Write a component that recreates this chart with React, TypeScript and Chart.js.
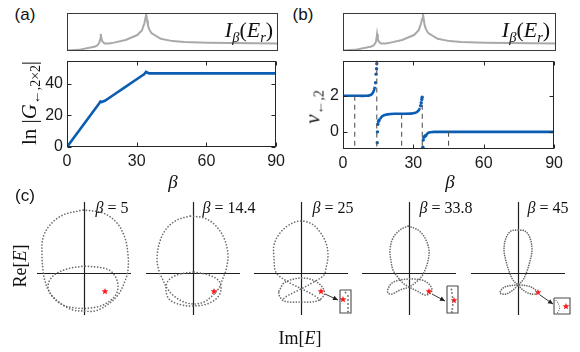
import React, { useEffect, useRef } from "react";
import { Chart, registerables } from "chart.js";
Chart.register(...registerables);

// ---------------- data ----------------
const xTicks = [0, 30, 60, 90];
const aYTicks = [0, 20, 40];
const bYTicks = [0, 2];

// inset intensity I_beta(E_r)
const betaIntensity = [0, 5, 10, 12, 13, 13.8, 14.1, 14.4, 14.7, 15, 16, 18, 20, 25, 30, 32, 33, 33.4, 33.8, 34.2, 34.5, 35, 36, 40, 45, 50, 60, 70, 80, 90];
const intensity = [0.01, 0.03, 0.09, 0.12, 0.15, 0.22, 0.3, 0.45, 0.32, 0.26, 0.2, 0.2, 0.22, 0.29, 0.42, 0.55, 0.73, 0.84, 0.97, 0.8, 0.68, 0.58, 0.47, 0.32, 0.26, 0.24, 0.22, 0.21, 0.205, 0.2];

// panel (a): ln|G|
const betaG = [0, 5, 10, 13.9, 14.4, 14.9, 16.3, 20, 25, 30, 33.3, 34.0, 35.4, 40, 50, 60, 70, 80, 90];
const lnG = [0, 10, 20, 27.8, 28.9, 28.5, 29.3, 33.0, 38.0, 43.0, 46.3, 47.6, 46.7, 46.7, 46.7, 46.7, 46.7, 46.7, 46.7];

// panel (b): winding number branches
const nuBranch1Beta = [0, 5, 10, 11.5, 12.5, 13.2, 13.6];
const nuBranch1 = [2, 2, 2, 2.03, 2.12, 2.3, 2.5];
const nuBranch2Beta = [15.8, 16.5, 17.5, 19, 22, 26, 29, 30.5, 31.5, 32.3, 32.8];
const nuBranch2 = [0.72, 0.84, 0.92, 0.97, 1, 1, 1.01, 1.04, 1.1, 1.2, 1.32];
const nuBranch3Beta = [35.6, 36.3, 37.2, 39, 45, 60, 75, 90];
const nuBranch3 = [-0.15, -0.06, -0.02, 0, 0, 0, 0, 0];
const nuDotsBeta = [13.9, 14.1, 14.3, 14.4, 14.6, 14.7, 14.85, 15.1, 15.45, 33.1, 33.35, 33.6, 33.75, 34.05, 34.2, 34.45, 34.9, 35.3];
const nuDots = [2.72, 3.2, 3.5, 3.78, -0.6, 0.0, 0.42, 0.58, 0.66, 1.45, 1.62, 1.8, 1.92, -0.85, -0.45, -0.3, -0.24, -0.2];
const dashBeta = [5, 14.4, 25, 33.8, 45];
const dashTop = [2, 3.95, 1, 1.5, 0];

// panel (c): spectra in complex plane
type Pt = [number, number];
const cLabels = ["5", "14.4", "25", "33.8", "45"];
const c1Outer: Pt[] = [[-1, 63], [-21, 58], [-34, 48], [-41, 35], [-42, 18], [-41, 3], [-39, -8], [-34, -20], [-24, -30], [-11, -37], [1, -38], [11, -38], [23, -32], [34, -22], [41, -8], [44, 3], [44, 18], [41, 35], [33, 50], [19, 60], [-1, 63]];
const c1Inner: Pt[] = [[1, 7], [-17, 4], [-31, -3], [-36, -13], [-32, -23], [-21, -32], [-8, -35], [6, -35], [19, -32], [31, -23], [34, -13], [31, -3], [23, 4], [1, 7]];
const c2Outer: Pt[] = [[-3, 57], [-16, 53], [-26, 45], [-33, 32], [-36, 15], [-34, 2], [-31, -5], [-26, -15], [-19, -23], [-9, -29], [1, -31], [11, -29], [19, -23], [26, -15], [30, -5], [33, 3], [35, 18], [31, 35], [22, 48], [11, 55], [-3, 57]];
const c2Inner: Pt[] = [[0, 1], [-16, -2], [-25, -8], [-27, -18], [-23, -27], [-11, -32], [1, -33], [14, -31], [24, -25], [28, -17], [26, -8], [16, -2], [0, 1]];
const c3Top: Pt[] = [[19, -27], [14, -23], [3, -17], [-11, -10], [-23, -2], [-26, 3], [-27, 15], [-27, 28], [-21, 40], [-12, 48], [-1, 52], [11, 49], [19, 41], [25, 30], [27, 17], [25, 5], [23, -2], [11, -10], [-2, -17], [-14, -23], [-19, -27]];
const c3Low: Pt[] = [[-22, -18], [-17, -10], [-7, -6], [3, -5], [14, -8], [22, -15], [23, -22], [16, -28], [-1, -29], [-17, -28], [-22, -22], [-22, -18]];
const c4Curve: Pt[] = [[-1, 47], [-9, 43], [-16, 35], [-19, 23], [-18, 12], [-16, 3], [-12, -3], [-6, -10], [0, -14], [8, -18], [16, -22], [20, -21], [23, -17], [20, -11], [13, -7], [4, -6], [-1, -6], [-9, -7], [-17, -10], [-21, -16], [-21, -20], [-17, -21], [-9, -17], [0, -14], [6, -10], [13, -3], [16, 3], [19, 12], [20, 23], [16, 35], [9, 43], [-1, 47]];
const c5Curve: Pt[] = [[0, 43], [-7, 42], [-12, 35], [-14, 23], [-12, 12], [-9, 2], [-5, -7], [0, -12], [5, -17], [13, -21], [20, -20], [15, -15], [10, -13], [0, -12], [-10, -13], [-15, -15], [-18, -20], [-12, -21], [-5, -17], [0, -12], [5, -7], [9, 2], [12, 12], [14, 23], [12, 35], [7, 42], [0, 43]];
const cStars: Pt[] = [[21, -18], [21, -18], [20, -18], [20, -18], [20, -19]];
const arrowFrom: Pt[] = [[24, -21], [23, -21], [22, -22]];
const arrowTo: Pt[] = [[37, -27], [36, -28], [35, -31]];
const boxX0 = [39, 38, 36];
const boxX1 = [50, 49, 52];
const boxY0 = [-17, -13, -25];
const boxY1 = [-40, -40, -41];
const boxStars: Pt[] = [[42, -26], [45, -27], [48, -33]];
const box3Dots: Pt[] = [[44.5, -19.5], [47, -23], [47, -27], [47, -31], [47, -35], [47, -38.5]];
const box4Dots: Pt[] = [[42.5, -16.5], [43, -20], [43.5, -24], [44, -28], [43.8, -32], [43.2, -36], [42.8, -39]];
const box5Curve: Pt[] = [[38, -27.5], [40.5, -31], [41.5, -35], [40.3, -38.5], [38.5, -40.5]];

// ---------------- styles ----------------
const AXIS = "#262626";
const BLUE = "#0b5cb3";
const GRAY_I = "#a9a9a9";
const DOT_GRAY = "#6c6c6c";
const cCenters = [84, 193, 301, 409, 518];
const crossY = 273;

const toXY = (xs: number[], ys: number[]) => xs.map((x, i) => ({ x, y: ys[i] }));
const fromPairs = (p: Pt[]) => p.map(([x, y]) => ({ x, y }));

const framePlugin = {
  id: "frame",
  afterDraw(chart: any, _a: any, opts: any) {
    if (!opts || !opts.enabled) return;
    const { ctx, chartArea: a, scales } = chart;
    const l = Math.round(a.left) + 0.5, t = Math.round(a.top) + 0.5;
    const r = Math.round(a.right) - 0.5, b = Math.round(a.bottom) - 0.5;
    ctx.save();
    ctx.strokeStyle = opts.color || AXIS;
    ctx.lineWidth = 1;
    ctx.strokeRect(l, t, r - l, b - t);
    if (opts.ticks) {
      const L = 4;
      ctx.beginPath();
      for (const tk of scales.x.ticks) {
        const px = Math.round(scales.x.getPixelForValue(tk.value)) + 0.5;
        ctx.moveTo(px, b); ctx.lineTo(px, b - L);
        ctx.moveTo(px, t); ctx.lineTo(px, t + L);
      }
      for (const tk of scales.y.ticks) {
        const py = Math.round(scales.y.getPixelForValue(tk.value)) + 0.5;
        ctx.moveTo(l, py); ctx.lineTo(l + L, py);
        ctx.moveTo(r, py); ctx.lineTo(r - L, py);
      }
      ctx.stroke();
    }
    ctx.restore();
  },
};

const crossPlugin = {
  id: "cross",
  beforeDatasetsDraw(chart: any, _a: any, opts: any) {
    if (!opts || !opts.enabled) return;
    const { ctx, scales } = chart;
    const x0 = Math.round(scales.x.getPixelForValue(0)) + 0.5;
    const y0 = Math.round(scales.y.getPixelForValue(0)) + 0.5;
    ctx.save();
    ctx.strokeStyle = "#1e1e1e";
    ctx.lineWidth = 1.2;
    ctx.beginPath();
    ctx.moveTo(scales.x.getPixelForValue(opts.xMin), y0);
    ctx.lineTo(scales.x.getPixelForValue(opts.xMax), y0);
    ctx.moveTo(x0, scales.y.getPixelForValue(opts.yMin));
    ctx.lineTo(x0, scales.y.getPixelForValue(opts.yMax));
    ctx.stroke();
    ctx.restore();
  },
};

const arrowPlugin = {
  id: "arrowHead",
  afterDatasetsDraw(chart: any) {
    const { ctx } = chart;
    chart.data.datasets.forEach((ds: any, i: number) => {
      if (!ds.arrowHead) return;
      const pts = chart.getDatasetMeta(i).data;
      if (pts.length < 2) return;
      const p1 = pts[pts.length - 2], p2 = pts[pts.length - 1];
      const ang = Math.atan2(p2.y - p1.y, p2.x - p1.x);
      const len = 5, w = 2.4;
      ctx.save();
      ctx.fillStyle = ds.borderColor;
      ctx.beginPath();
      ctx.moveTo(p2.x, p2.y);
      ctx.lineTo(p2.x - len * Math.cos(ang) + w * Math.sin(ang), p2.y - len * Math.sin(ang) - w * Math.cos(ang));
      ctx.lineTo(p2.x - len * Math.cos(ang) - w * Math.sin(ang), p2.y - len * Math.sin(ang) + w * Math.cos(ang));
      ctx.closePath();
      ctx.fill();
      ctx.restore();
    });
  },
};

function makeStar(size: number, color: string) {
  const c = document.createElement("canvas");
  c.width = size; c.height = size;
  const g = c.getContext("2d")!;
  const cx = size / 2, cy = size / 2 + 0.4, R = size / 2 - 0.5, r = R * 0.45;
  g.beginPath();
  for (let i = 0; i < 10; i++) {
    const ang = -Math.PI / 2 + (i * Math.PI) / 5;
    const rad = i % 2 === 0 ? R : r;
    g.lineTo(cx + rad * Math.cos(ang), cy + rad * Math.sin(ang));
  }
  g.closePath();
  g.fillStyle = color;
  g.fill();
  return c;
}

const tickFont = { family: '"Liberation Sans", Arial, Helvetica, sans-serif', size: 16 };
const baseOpts = (extra: any) => ({
  responsive: false,
  animation: false,
  events: [],
  ...extra,
});

function insetConfig() {
  return {
    type: "scatter",
    data: {
      datasets: [{ data: toXY(betaIntensity, intensity), showLine: true, borderColor: GRAY_I, borderWidth: 2, pointRadius: 0, tension: 0 }],
    },
    options: baseOpts({
      layout: { padding: 2, autoPadding: false },
      scales: { x: { type: "linear", min: 0, max: 90, display: false }, y: { min: 0, max: 1, display: false } },
      plugins: { legend: { display: false }, tooltip: { enabled: false }, frame: { enabled: true, color: "#3a3a3a" } },
    }),
    plugins: [framePlugin],
  };
}

function mainScales(yMin: number, yMax: number, yTicks: number[], yWidth: number, xHeight: number) {
  return {
    x: {
      type: "linear", min: 0, max: 90,
      afterBuildTicks: (s: any) => { s.ticks = xTicks.map((v) => ({ value: v })); },
      afterFit: (s: any) => { s.height = xHeight; },
      grid: { display: false, drawTicks: false },
      border: { display: false },
      ticks: { font: tickFont, color: "#1a1a1a", padding: 5, maxRotation: 0, autoSkip: false },
    },
    y: {
      type: "linear", min: yMin, max: yMax,
      afterBuildTicks: (s: any) => { s.ticks = yTicks.map((v) => ({ value: v })); },
      afterFit: (s: any) => { s.width = yWidth; },
      grid: { display: false, drawTicks: false },
      border: { display: false },
      ticks: { font: tickFont, color: "#1a1a1a", padding: 4, autoSkip: false },
    },
  };
}

function aConfig() {
  return {
    type: "scatter",
    data: {
      datasets: [{ data: toXY(betaG, lnG), showLine: true, borderColor: BLUE, borderWidth: 2.6, pointRadius: 0, tension: 0 }],
    },
    options: baseOpts({
      layout: { padding: { top: 4, right: 12, left: 0, bottom: 0 }, autoPadding: false },
      scales: mainScales(0, 54.8, aYTicks, 47, 27),
      plugins: { legend: { display: false }, tooltip: { enabled: false }, frame: { enabled: true, ticks: true } },
    }),
    plugins: [framePlugin],
  };
}

const B_YMIN = -0.95;
const B_YMAX = 3.95;

function bConfig() {
  const dashed = dashBeta.map((b, i) => ({
    data: [{ x: b, y: dashTop[i] }, { x: b, y: B_YMIN }],
    showLine: true, borderColor: "#555", borderWidth: 1.1, borderDash: [5, 4], pointRadius: 0,
  }));
  const line = (xs: number[], ys: number[]) => ({
    data: toXY(xs, ys), showLine: true, borderColor: BLUE, borderWidth: 2.6, pointRadius: 0, tension: 0.3,
  });
  return {
    type: "scatter",
    data: {
      datasets: [
        ...dashed,
        line(nuBranch1Beta, nuBranch1),
        line(nuBranch2Beta, nuBranch2),
        line(nuBranch3Beta, nuBranch3),
        { data: toXY(nuDotsBeta, nuDots), showLine: false, pointRadius: 1.7, backgroundColor: BLUE, borderWidth: 0 },
      ],
    },
    options: baseOpts({
      layout: { padding: { top: 4, right: 12, left: 0, bottom: 0 }, autoPadding: false },
      scales: mainScales(B_YMIN, B_YMAX, bYTicks, 48, 27),
      plugins: { legend: { display: false }, tooltip: { enabled: false }, frame: { enabled: true, ticks: true } },
    }),
    plugins: [framePlugin],
  };
}

function dotted(p: Pt[], gap = 3.1) {
  return {
    data: fromPairs(p), showLine: true, borderColor: DOT_GRAY, borderWidth: 1.7,
    borderDash: [0.01, gap], borderCapStyle: "round", pointRadius: 0, tension: 0.35,
  };
}

function cConfig(idx: number) {
  const star = makeStar(8, "#ff1a1a");
  const sets: any[] = [];
  if (idx === 0) sets.push(dotted(c1Outer), dotted(c1Inner));
  if (idx === 1) sets.push(dotted(c2Outer), dotted(c2Inner));
  if (idx === 2) sets.push(dotted(c3Top), dotted(c3Low, 2.8));
  if (idx === 3) sets.push(dotted(c4Curve, 2.6));
  if (idx === 4) sets.push(dotted(c5Curve, 2.4));
  if (idx >= 2) {
    const k = idx - 2;
    sets.push({
      data: fromPairs([arrowFrom[k], arrowTo[k]]), showLine: true, borderColor: "#222",
      borderWidth: 0.9, pointRadius: 0, arrowHead: true,
    });
    sets.push({
      data: fromPairs([[boxX0[k], boxY0[k]], [boxX1[k], boxY0[k]], [boxX1[k], boxY1[k]], [boxX0[k], boxY1[k]], [boxX0[k], boxY0[k]]]),
      showLine: true, borderColor: "#4a4a4a", borderWidth: 1.1, pointRadius: 0, tension: 0,
    });
    if (k === 0) sets.push({ data: fromPairs(box3Dots), showLine: false, pointRadius: 0.9, backgroundColor: DOT_GRAY, borderWidth: 0 });
    if (k === 1) sets.push({ data: fromPairs(box4Dots), showLine: false, pointRadius: 0.9, backgroundColor: DOT_GRAY, borderWidth: 0 });
    if (k === 2) sets.push({ ...dotted(box5Curve, 2.2), borderWidth: 1.2 });
    sets.push({ data: fromPairs([boxStars[k]]), showLine: false, pointStyle: star, pointRadius: 4 });
  }
  sets.push({ data: fromPairs([cStars[idx]]), showLine: false, pointStyle: star, pointRadius: 4 });
  return {
    type: "scatter",
    data: { datasets: sets },
    options: baseOpts({
      layout: { padding: 0, autoPadding: false },
      scales: { x: { type: "linear", min: -50, max: 60, display: false }, y: { min: -45, max: 75, display: false } },
      plugins: {
        legend: { display: false }, tooltip: { enabled: false },
        cross: { enabled: true, xMin: -47, xMax: 47, yMin: -42, yMax: 71 },
      },
    }),
    plugins: [crossPlugin, arrowPlugin],
  };
}

function ChartCanvas({ left, top, width, height, make }: any) {
  const ref = useRef<HTMLCanvasElement>(null);
  useEffect(() => {
    const chart = new Chart(ref.current as HTMLCanvasElement, make());
    return () => chart.destroy();
  }, []);
  return <canvas ref={ref} width={width} height={height} style={{ position: "absolute", left, top, width, height }} />;
}

const SERIF = '"Liberation Serif", "Times New Roman", serif';
const SANS = '"Liberation Sans", Arial, Helvetica, sans-serif';

function Lbl({ x, y, size, rot, sans, children }: any) {
  return (
    <div
      style={{
        position: "absolute", left: x, top: y,
        transform: `translate(-50%, -50%)${rot ? " rotate(-90deg)" : ""}`,
        fontFamily: sans ? SANS : SERIF, fontSize: size, lineHeight: 1,
        whiteSpace: "nowrap", color: "#111",
      }}
    >
      {children}
    </div>
  );
}

const Sub = ({ children }: any) => (
  <sub style={{ fontSize: "0.66em", verticalAlign: "-0.32em", lineHeight: 0 }}>{children}</sub>
);
const I = ({ children }: any) => <i>{children}</i>;

const IntensityLabel = () => (
  <>
    <I>I</I><Sub><I>β</I></Sub>(<I>E</I><Sub><I>r</I></Sub>)
  </>
);

export default function App() {
  return (
    <div style={{ position: "absolute", left: 0, top: 0, width: 580, height: 352, background: "#fff", overflow: "hidden" }}>
      <ChartCanvas left={65} top={11} width={215} height={42} make={insetConfig} />
      <ChartCanvas left={20} top={47} width={270} height={127} make={aConfig} />
      <ChartCanvas left={341} top={11} width={217} height={42} make={insetConfig} />
      <ChartCanvas left={295} top={47} width={273} height={129} make={bConfig} />
      {cCenters.map((cx, i) => (
        <ChartCanvas key={i} left={cx - 50} top={crossY - 75} width={110} height={120} make={() => cConfig(i)} />
      ))}

      <Lbl x={25} y={14} size={17} sans>(a)</Lbl>
      <Lbl x={303} y={14} size={17} sans>(b)</Lbl>
      <Lbl x={25} y={195} size={17} sans>(c)</Lbl>

      <Lbl x={249} y={30} size={22}><IntensityLabel /></Lbl>
      <Lbl x={526} y={30} size={22}><IntensityLabel /></Lbl>

      <Lbl x={29} y={103} size={21} rot>
        ln |<I>G</I><Sub>←,2×2</Sub>|
      </Lbl>
      <Lbl x={313} y={107} size={21} rot>
        <I>ν</I><Sub>←,2</Sub>
      </Lbl>

      <Lbl x={173} y={181} size={19}><I>β</I></Lbl>
      <Lbl x={450} y={181} size={19}><I>β</I></Lbl>

      {cLabels.map((t, i) => (
        <Lbl key={i} x={[112, 229, 333, 446, 548][i]} y={208} size={16}>
          <I>β</I> = {t}
        </Lbl>
      ))}

      <Lbl x={20} y={266} size={18} rot>Re[<I>E</I>]</Lbl>
      <Lbl x={300} y={338} size={18}>Im[<I>E</I>]</Lbl>
    </div>
  );
}
